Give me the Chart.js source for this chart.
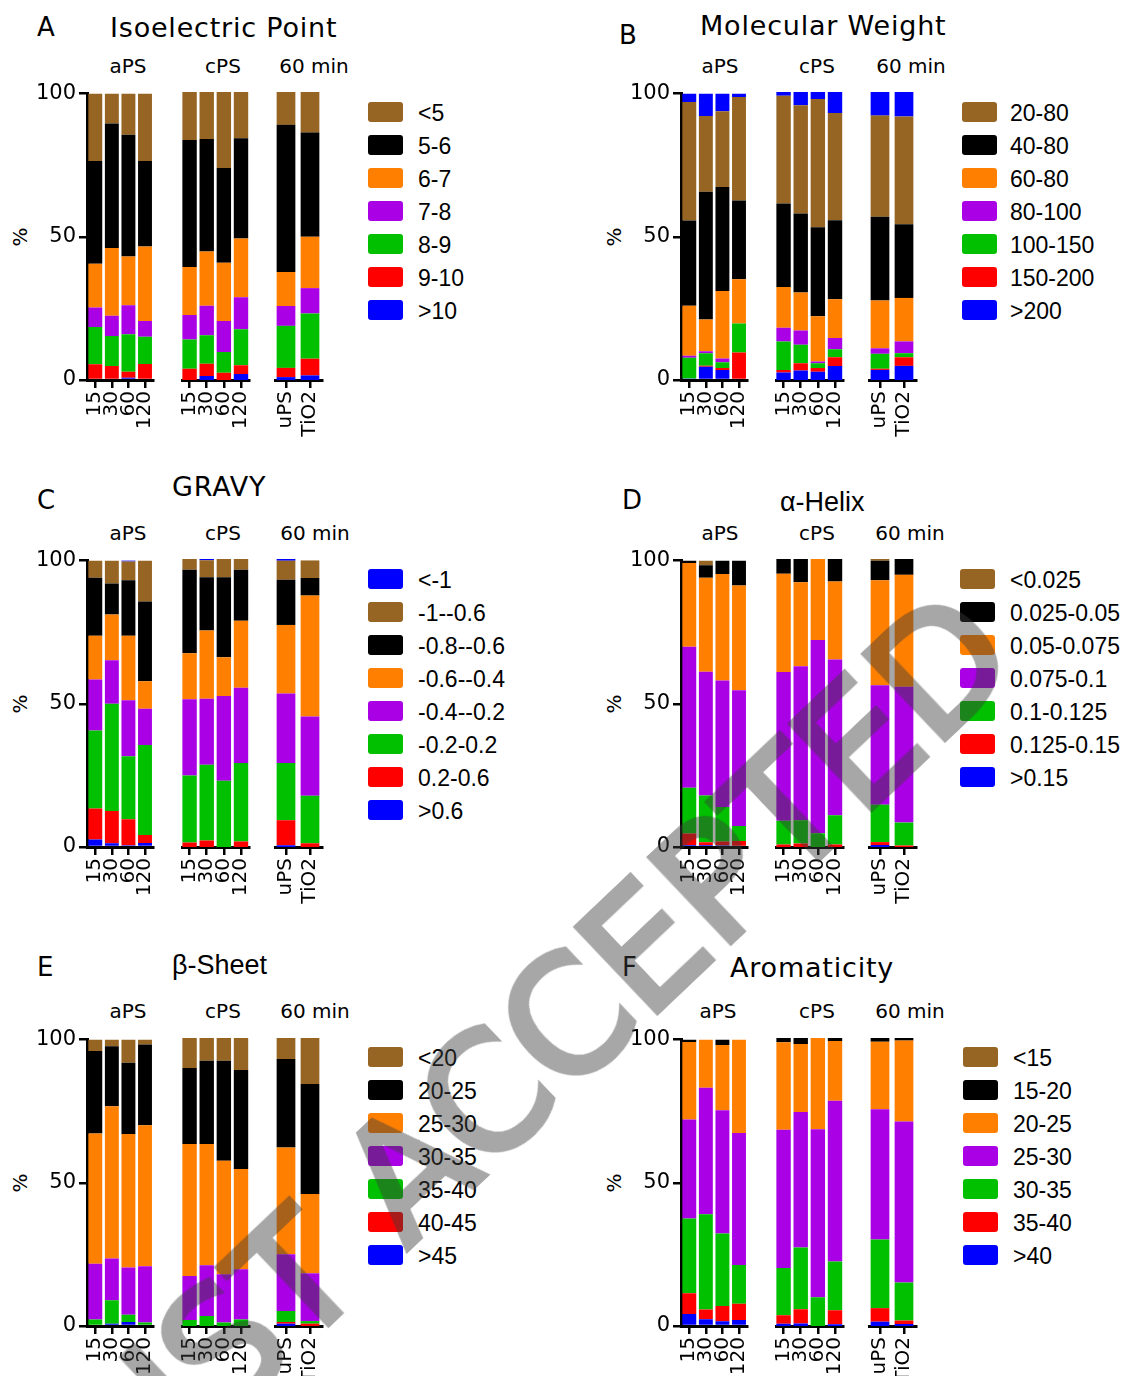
<!DOCTYPE html>
<html>
<head>
<meta charset="utf-8">
<script src="https://cdn.jsdelivr.net/npm/chart.js@4.4.1/dist/chart.umd.min.js"></script>
<style>
  body { margin: 0; background: #fff; font-family: 'DejaVu Sans', sans-serif; }
  #fig { position: relative; width: 1127px; height: 1376px; overflow: hidden; background: #fff; }
  #fig canvas { position: absolute; }
  .t { position: absolute; white-space: nowrap; color: #000; line-height: 1; }
  .box { position: absolute; width: 35px; height: 20px; border-radius: 3px; }
  .lgt { position: absolute; white-space: nowrap; font-family: 'Liberation Sans', Arial, sans-serif; font-size: 23px; line-height: 1; transform: translateY(-50%); }
  .wm { position: absolute; white-space: nowrap; font-family: 'DejaVu Sans', sans-serif; font-weight: normal; font-size: 160px; line-height: 1;
        color: #3c3c3c; -webkit-text-stroke: 6px #3c3c3c; opacity: 0.45; pointer-events: none; transform-origin: 100% 50%; }
</style>
</head>
<body>
<div id="fig"></div>
<script>
// ---- DATA (bars: aPS 15,30,60,120 | cPS 15,30,60,120 | uPS, TiO2)
// each panel: rows in legend order = top of the stack first
const timeLabels = ['15', '30', '60', '120'];
const ctrlLabels = ['uPS', 'TiO2'];
const groupNames = ['aPS', 'cPS', '60 min'];

const pIBins = ['<5', '5-6', '6-7', '7-8', '8-9', '9-10', '>10'];
const pIValues = [
  [23.5, 10.4, 14.4, 23.5, 16.7, 16.3, 26.4, 16.1, 11.4, 14.1],
  [35.9, 43.5, 42.5, 29.9, 44.1, 39.1, 32.9, 34.8, 51.1, 36.2],
  [15.3, 23.7, 17.0, 26.0, 16.6, 18.8, 20.2, 20.4, 11.8, 17.8],
  [6.8, 7.0, 10.1, 5.5, 8.5, 10.3, 10.8, 11.1, 6.9, 8.8],
  [13.0, 10.5, 13.1, 9.5, 10.2, 9.9, 7.2, 12.5, 14.6, 15.7],
  [5.5, 4.9, 2.1, 5.6, 3.9, 4.2, 2.5, 3.0, 3.2, 5.8],
  [0, 0, 0.8, 0, 0, 1.4, 0, 2.1, 1.0, 1.6]
];

// first row (blue cap on top) has no legend entry in the figure
const mwBins = ['<20', '20-80', '40-80', '60-80', '80-100', '100-150', '150-200', '>200'];
const mwValues = [
  [2.9, 7.8, 6.2, 1.2, 1.3, 4.6, 2.4, 7.3, 8.2, 8.5],
  [41.4, 26.5, 26.4, 36.1, 37.4, 37.6, 44.6, 37.2, 35.1, 37.4],
  [29.8, 44.6, 36.3, 27.5, 29.0, 27.4, 30.9, 27.5, 29.1, 25.6],
  [17.4, 11.1, 23.6, 15.5, 14.2, 13.2, 15.7, 13.4, 16.6, 15.1],
  [0.7, 0.7, 1.3, 0, 4.7, 5.0, 0.6, 3.9, 1.9, 4.1],
  [7.3, 4.3, 2.0, 10.1, 9.9, 6.4, 1.6, 2.8, 5.2, 1.4],
  [0, 0.4, 0.7, 9.6, 0.9, 2.5, 1.3, 3.0, 0.4, 3.0],
  [0.5, 4.6, 3.5, 0, 2.6, 3.3, 2.9, 4.9, 3.5, 4.9]
];

const gravyBins = ['<-1', '-1--0.6', '-0.8--0.6', '-0.6--0.4', '-0.4--0.2', '-0.2-0.2', '0.2-0.6', '>0.6'];
const gravyValues = [
  [0, 0, 0.4, 0, 0, 0.4, 0, 0, 0.6, 0],
  [6.0, 8.0, 6.6, 14.3, 3.7, 5.9, 6.3, 3.7, 6.6, 6.1],
  [20.2, 10.8, 19.3, 27.8, 29.0, 18.5, 27.8, 17.7, 15.7, 6.1],
  [15.3, 16.0, 22.6, 9.6, 16.0, 23.7, 13.5, 23.3, 23.8, 42.0],
  [17.8, 15.2, 19.5, 12.7, 26.5, 22.9, 29.4, 26.1, 24.1, 27.5],
  [27.3, 37.4, 22.0, 31.4, 23.2, 26.3, 23.0, 27.3, 19.9, 16.5],
  [10.8, 11.3, 9.1, 2.8, 1.6, 2.3, 0, 1.9, 8.7, 1.3],
  [2.6, 1.3, 0.6, 1.4, 0, 0, 0, 0, 0.6, 0]
];

const helixBins = ['<0.025', '0.025-0.05', '0.05-0.075', '0.075-0.1', '0.1-0.125', '0.125-0.15', '>0.15'];
const helixValues = [
  [0, 1.6, 0, 0, 0, 0, 0, 0, 0.6, 0],
  [0.8, 4.4, 4.7, 8.7, 5.1, 8.1, 0, 7.8, 6.8, 5.5],
  [29.3, 32.8, 37.2, 36.6, 34.1, 29.1, 28.1, 27.1, 36.4, 38.9],
  [49.2, 43.2, 44.1, 47.4, 51.7, 53.5, 67.1, 54.1, 41.5, 47.1],
  [16.0, 16.3, 12.1, 5.2, 8.2, 8.1, 4.8, 10.1, 13.0, 8.0],
  [4.0, 1.0, 1.3, 2.1, 0.9, 1.2, 0, 0.9, 1.0, 0.5],
  [0.7, 0.7, 0.6, 0, 0, 0, 0, 0, 0.7, 0]
];

const sheetBins = ['<20', '20-25', '25-30', '30-35', '35-40', '40-45', '>45'];
const sheetValues = [
  [4.0, 2.3, 8.1, 1.7, 10.4, 7.9, 7.9, 11.1, 7.3, 16.0],
  [28.8, 21.0, 24.9, 28.2, 26.4, 28.9, 34.7, 34.4, 30.7, 38.2],
  [45.5, 53.1, 46.6, 49.2, 45.8, 42.1, 39.4, 34.8, 37.1, 27.5],
  [19.4, 14.6, 16.5, 19.7, 15.3, 17.6, 16.8, 17.4, 19.7, 16.6],
  [2.3, 8.2, 2.5, 1.2, 2.1, 3.5, 1.2, 2.3, 3.8, 0.9],
  [0, 0, 0, 0, 0, 0, 0, 0, 0.6, 0.8],
  [0, 0.8, 1.4, 0, 0, 0, 0, 0, 0.8, 0]
];

const aromBins = ['<15', '15-20', '20-25', '25-30', '30-35', '35-40', '>40'];
const aromValues = [
  [0, 0, 0, 0, 0, 0, 0, 0, 0, 0],
  [0.8, 0, 1.9, 0, 1.5, 2.1, 0, 1.0, 1.3, 0.9],
  [27.1, 16.8, 22.8, 32.6, 30.4, 23.6, 31.7, 20.8, 23.4, 28.1],
  [34.6, 44.2, 43.0, 46.1, 48.0, 47.0, 58.3, 55.8, 45.3, 55.9],
  [26.1, 33.2, 25.3, 13.5, 16.4, 21.5, 10.0, 16.9, 23.8, 13.2],
  [7.2, 3.4, 5.3, 5.7, 2.9, 4.9, 0, 4.9, 4.7, 1.2],
  [4.2, 2.4, 1.7, 2.1, 0.8, 0.9, 0, 0.6, 1.5, 0.7]
];

// ---- STYLE
const BROWN = '#966423', BLACK = '#000000', ORANGE = '#ff8000', PURPLE = '#aa00e6',
      GREEN = '#00c000', RED = '#ff0000', BLUE = '#0000ff';
const colors7 = [BROWN, BLACK, ORANGE, PURPLE, GREEN, RED, BLUE];
const colors8 = [BLUE, BROWN, BLACK, ORANGE, PURPLE, GREEN, RED, BLUE];

Chart.defaults.font.family = "'DejaVu Sans', sans-serif";
Chart.defaults.color = '#000';

const YW = 70;     // y scale width
const PT = 14;     // space above 100
const PH = 288;    // plot height
const XH = 62;     // x scale height
const segs = [[0, 81], [94, 177], [187, 246]];   // group segments, rel. to y axis
const groupSlices = [[0, 4], [4, 8], [8, 10]];

const panels = [
  { letter: 'A', lx: 37, ly: 27, title: 'Isoelectric Point', tx: 110, ty: 27, ax: 87, top: 92,
    gx: [128, 223, 314], gy: 66, bins: pIBins, values: pIValues, colors: colors7, skip: 0,
    boxX: 368, textX: 418, legY: 112 },
  { letter: 'B', lx: 619, ly: 35, title: 'Molecular Weight', tx: 700, ty: 25, ax: 681, top: 92,
    gx: [720, 817, 911], gy: 66, bins: mwBins, values: mwValues, colors: colors8, skip: 1,
    boxX: 962, textX: 1010, legY: 112 },
  { letter: 'C', lx: 37, ly: 500, title: 'GRAVY', tx: 172, ty: 486, ax: 87, top: 559,
    gx: [128, 223, 315], gy: 533, bins: gravyBins, values: gravyValues, colors: colors8, skip: 0,
    boxX: 368, textX: 418, legY: 579 },
  { letter: 'D', lx: 622, ly: 500, title: 'α-Helix', greek: true, tx: 780, ty: 502, ax: 681, top: 559,
    gx: [720, 817, 910], gy: 533, bins: helixBins, values: helixValues, colors: colors7, skip: 0,
    boxX: 960, textX: 1010, legY: 579 },
  { letter: 'E', lx: 37, ly: 967, title: 'β-Sheet', greek: true, tx: 172, ty: 965, ax: 87, top: 1038,
    gx: [128, 223, 315], gy: 1011, bins: sheetBins, values: sheetValues, colors: colors7, skip: 0,
    boxX: 368, textX: 418, legY: 1057 },
  { letter: 'F', lx: 622, ly: 967, title: 'Aromaticity', tx: 730, ty: 967, ax: 681, top: 1038,
    gx: [718, 817, 910], gy: 1011, bins: aromBins, values: aromValues, colors: colors7, skip: 0,
    boxX: 963, textX: 1013, legY: 1057 }
];

const fig = document.getElementById('fig');

function addText(txt, x, y, size, opts){
  opts = opts || {};
  const d = document.createElement('div');
  d.className = 't';
  d.textContent = txt;
  d.style.left = x + 'px';
  d.style.top = y + 'px';
  d.style.fontSize = size + 'px';
  if (opts.family) d.style.fontFamily = opts.family;
  if (opts.spacing) d.style.letterSpacing = opts.spacing + 'px';
  d.style.transform = opts.transform || 'translateY(-50%)';
  fig.appendChild(d);
  return d;
}

function drawGroup(p, g){
  const [s0, s1] = segs[g];
  const [i0, i1] = groupSlices[g];
  const showY = g === 0;
  const left = showY ? p.ax - YW : p.ax + s0;
  const width = showY ? YW + s1 : s1 - s0;
  const height = PT + PH + XH;

  const cv = document.createElement('canvas');
  cv.width = width;
  cv.height = height;
  cv.style.left = left + 'px';
  cv.style.top = (p.top - PT) + 'px';
  fig.appendChild(cv);

  // stack bottom first
  const datasets = [];
  for (let k = p.values.length - 1; k >= 0; k--) {
    datasets.push({
      label: p.bins[k],
      data: p.values[k].slice(i0, i1),
      backgroundColor: p.colors[k],
      borderWidth: 0
    });
  }

  new Chart(cv, {
    type: 'bar',
    data: { labels: g === 2 ? ctrlLabels : timeLabels, datasets: datasets },
    options: {
      responsive: false,
      animation: false,
      layout: { padding: { top: PT, left: 0, right: 0, bottom: 0 } },
      plugins: { legend: { display: false }, tooltip: { enabled: false } },
      datasets: { bar: { barPercentage: g === 2 ? 0.78 : 0.84, categoryPercentage: 1 } },
      scales: {
        x: {
          stacked: true,
          grid: { display: true, drawOnChartArea: false, drawTicks: true, tickLength: 8,
                  offset: false, lineWidth: 2.5, color: '#000' },
          border: { display: true, width: 3, color: '#000' },
          ticks: { autoSkip: false, minRotation: 90, maxRotation: 90, padding: 3,
                   color: '#000', font: { size: 20, lineHeight: 1 } },
          afterFit: s => { s.height = XH; }
        },
        y: {
          display: showY,
          stacked: true,
          min: 0,
          max: 100,
          ticks: { stepSize: 50, padding: 3, color: '#000', font: { size: 21 } },
          grid: { drawOnChartArea: false, tickLength: 8, lineWidth: 2.5, color: '#000' },
          border: { display: true, width: 3, color: '#000' },
          afterFit: s => { s.width = showY ? YW : 0; }
        }
      }
    }
  });
}

function drawPanel(p){
  addText(p.letter, p.lx, p.ly, 26);
  if (p.greek) {
    addText(p.title, p.tx, p.ty, 27, { family: "'Liberation Sans', Arial, sans-serif" });
  } else {
    addText(p.title, p.tx, p.ty, 27, { spacing: 0.8 });
  }
  groupNames.forEach((n, i) => addText(n, p.gx[i], p.gy, 20, { transform: 'translate(-50%,-50%)' }));
  addText('%', p.ax - 67, p.top + 145, 20, { transform: 'translate(-50%,-50%) rotate(-90deg)' });

  for (let g = 0; g < 3; g++) drawGroup(p, g);

  // legend
  let row = 0;
  for (let k = p.skip; k < p.bins.length; k++) {
    const cy = p.legY + row * 33;
    const b = document.createElement('div');
    b.className = 'box';
    b.style.left = p.boxX + 'px';
    b.style.top = (cy - 10) + 'px';
    b.style.background = p.colors[k];
    fig.appendChild(b);
    const t = document.createElement('div');
    t.className = 'lgt';
    t.textContent = p.bins[k];
    t.style.left = p.textX + 'px';
    t.style.top = (cy + 1) + 'px';
    fig.appendChild(t);
    row++;
  }
}

panels.forEach(drawPanel);

// watermark across the figure, anchored at the end of the word
const wm = document.createElement('div');
wm.className = 'wm';
wm.textContent = 'JUST ACCEPTED';
fig.appendChild(wm);
const ww = wm.offsetWidth, wh = wm.offsetHeight;
wm.style.left = (985 - ww) + 'px';
wm.style.top = (625 - wh / 2) + 'px';
wm.style.transform = 'rotate(-43.5deg)';
</script>
</body>
</html>
